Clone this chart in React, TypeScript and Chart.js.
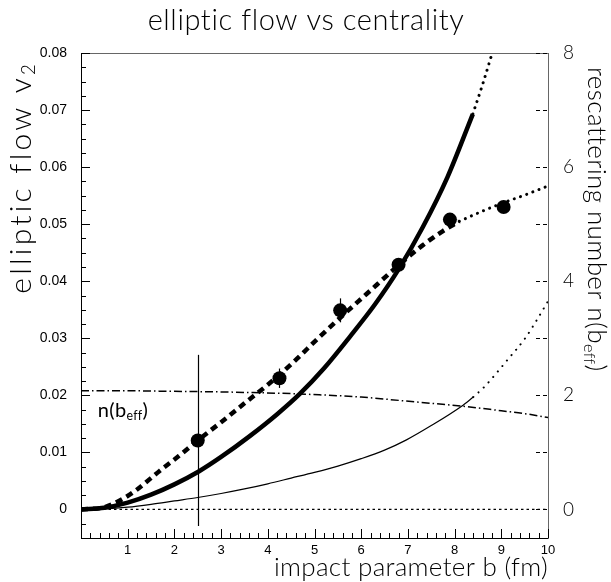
import React, { useEffect, useRef } from "react";
import { Chart, registerables } from "chart.js";

Chart.register(...registerables);

// ---------- text ----------
const TITLE = "elliptic flow vs centrality";
const X_TITLE = "impact parameter b (fm)";
const Y_TITLE_MAIN = "elliptic flow v";
const Y_TITLE_SUB = "2";
const Y2_TITLE_MAIN = "rescattering number n(b";
const Y2_TITLE_SUB = "eff";
const Y2_TITLE_END = ")";
const N_LABEL_MAIN = "n(b";
const N_LABEL_SUB = "eff";
const N_LABEL_END = ")";
const N_LABEL_B = 0.36;
const N_LABEL_V = 0.0174;

// ---------- tick labels ----------
const X_TICKS = [1, 2, 3, 4, 5, 6, 7, 8, 9, 10];
const Y_TICKS = [0, 0.01, 0.02, 0.03, 0.04, 0.05, 0.06, 0.07, 0.08];
const Y2_TICKS = [0, 2, 4, 6, 8];

// ---------- data ----------
// thick solid curve (model) and its dotted continuation
const SOLID_B = [0, 0.5, 1, 1.5, 2, 2.53, 3, 3.62, 4.2, 4.69, 5.2, 5.76, 6.3, 6.81, 7.32, 7.85, 8.39];
const SOLID_V = [0, 0.0003, 0.0012, 0.0026, 0.0044, 0.0067, 0.0092, 0.0129, 0.0167, 0.0203, 0.0247, 0.0303, 0.036, 0.0422, 0.0495, 0.0583, 0.0693];
const SOLID_EXT_B = [8.39, 8.6, 8.85];
const SOLID_EXT_V = [0.0693, 0.0745, 0.0812];

// thick dashed curve and its dotted continuation
const DASH_B = [0, 0.5, 0.84, 1.2, 1.69, 2.1, 2.5, 3, 3.5, 4.05, 4.6, 5.05, 5.55, 6.12, 6.8, 7.3, 7.75, 8.1];
const DASH_V = [0, 0.0004, 0.0016, 0.0035, 0.0068, 0.0094, 0.0121, 0.0153, 0.0186, 0.0222, 0.0262, 0.0298, 0.0336, 0.0378, 0.0428, 0.0462, 0.0488, 0.0505];
const DASH_EXT_B = [8.1, 8.6, 9.06, 9.5, 10];
const DASH_EXT_V = [0.0505, 0.0523, 0.0538, 0.0551, 0.0567];

// thin solid curve and its dotted continuation
const THIN_B = [0, 0.5, 1, 1.5, 2, 2.5, 3, 3.5, 4, 4.5, 5, 5.5, 6, 6.5, 6.97, 7.5, 8.15, 8.4];
const THIN_V = [0, 0.0001, 0.0004, 0.0009, 0.0015, 0.0021, 0.0028, 0.0036, 0.0045, 0.0055, 0.0065, 0.0076, 0.0089, 0.0104, 0.0122, 0.0147, 0.0181, 0.0197];
const THIN_EXT_B = [8.4, 8.65, 9.12, 9.51, 9.76, 10];
const THIN_EXT_V = [0.0197, 0.0216, 0.0261, 0.03, 0.0332, 0.0365];

// rescattering number n(b_eff), right axis
const N_B = [0, 1, 2, 3, 3.6, 4.5, 5.1, 6, 6.83, 7.5, 8.18, 9, 9.5, 10];
const N_V = [2.08, 2.08, 2.07, 2.06, 2.05, 2.03, 2.01, 1.97, 1.91, 1.86, 1.81, 1.73, 1.68, 1.61];

// zero reference line
const ZERO_B = [0, 10];
const ZERO_V = [0, 0];

// measured points with errors
const PT_B = [2.5, 4.25, 5.55, 6.8, 7.9, 9.05];
const PT_V = [0.0121, 0.023, 0.0349, 0.0429, 0.0508, 0.053];
const PT_ERR = [0.015, 0.0017, 0.0021, 0.001, 0.001, 0.001];

const xy = (bs: number[], vs: number[]) => bs.map((b, i) => ({ x: b, y: vs[i] }));

const TITLE_FONT = "Lato, 'DejaVu Sans', sans-serif";
const NUM_FONT = "'Liberation Sans', Arial, sans-serif";

function drawRich(
  ctx: CanvasRenderingContext2D,
  parts: { t: string; sub?: boolean }[],
  size: number,
  align: "left" | "right" | "center",
  spacing = 0,
  weight = 300
) {
  const subSize = size * 0.62;
  (ctx as any).letterSpacing = `${spacing}px`;
  const widths = parts.map((p) => {
    ctx.font = `${weight} ${p.sub ? subSize : size}px ${TITLE_FONT}`;
    return ctx.measureText(p.t).width;
  });
  const total = widths.reduce((a, b) => a + b, 0);
  let x = align === "left" ? 0 : align === "right" ? -total : -total / 2;
  ctx.textBaseline = "middle";
  ctx.textAlign = "left";
  parts.forEach((p, i) => {
    ctx.font = `${weight} ${p.sub ? subSize : size}px ${TITLE_FONT}`;
    ctx.fillText(p.t, x, p.sub ? size * 0.28 : 0);
    x += widths[i];
  });
  (ctx as any).letterSpacing = "0px";
}

const decor = {
  id: "decor",
  afterDatasetsDraw(chart: any) {
    const ctx: CanvasRenderingContext2D = chart.ctx;
    const xs = chart.scales.x;
    const ys = chart.scales.y;
    ctx.save();
    ctx.strokeStyle = "#000";
    ctx.lineWidth = 1.2;
    PT_B.forEach((b, i) => {
      const px = Math.round(xs.getPixelForValue(b)) + 0.5;
      ctx.beginPath();
      ctx.moveTo(px, ys.getPixelForValue(PT_V[i] - PT_ERR[i]));
      ctx.lineTo(px, ys.getPixelForValue(PT_V[i] + PT_ERR[i]));
      ctx.stroke();
    });
    ctx.restore();
  },
  afterDraw(chart: any) {
    const ctx: CanvasRenderingContext2D = chart.ctx;
    const xs = chart.scales.x;
    const ys = chart.scales.y;
    const y2 = chart.scales.y2;
    const { left, right, top, bottom } = chart.chartArea;
    ctx.save();
    ctx.lineWidth = 1;
    // top frame
    ctx.strokeStyle = "#666";
    ctx.beginPath();
    ctx.moveTo(left, Math.round(top) + 0.5);
    ctx.lineTo(right, Math.round(top) + 0.5);
    ctx.stroke();
    // left ticks
    ctx.strokeStyle = "#000";
    for (let k = -2; k <= 32; k++) {
      const py = Math.round(ys.getPixelForValue(k * 0.0025)) + 0.5;
      const len = k % 4 === 0 ? 9 : 5;
      ctx.beginPath();
      ctx.moveTo(left, py);
      ctx.lineTo(left + len, py);
      ctx.stroke();
    }
    // bottom ticks
    for (let k = 0; k <= 50; k++) {
      const px = Math.round(xs.getPixelForValue(k * 0.2)) + 0.5;
      const len = k % 5 === 0 ? 9 : 5;
      ctx.beginPath();
      ctx.moveTo(px, bottom);
      ctx.lineTo(px, bottom - len);
      ctx.stroke();
    }
    // right dashed ticks
    ctx.setLineDash([4, 3]);
    for (let n = 0; n <= 8; n++) {
      const py = Math.round(y2.getPixelForValue(n)) + 0.5;
      ctx.beginPath();
      ctx.moveTo(right - 12, py);
      ctx.lineTo(right, py);
      ctx.stroke();
    }
    ctx.setLineDash([]);

    ctx.fillStyle = "#000";
    // main title
    ctx.save();
    ctx.translate(306, 21);
    drawRich(ctx, [{ t: TITLE }], 29, "center", 0.6);
    ctx.restore();
    // x title
    ctx.save();
    ctx.translate(right, 568);
    drawRich(ctx, [{ t: X_TITLE }], 26, "right", 0.3);
    ctx.restore();
    // left y title
    ctx.save();
    ctx.translate(21, top + 8);
    ctx.rotate(-Math.PI / 2);
    drawRich(ctx, [{ t: Y_TITLE_MAIN }, { t: Y_TITLE_SUB, sub: true }], 30, "right", 3.2);
    ctx.restore();
    // right y title
    ctx.save();
    ctx.translate(596, top + 14);
    ctx.rotate(Math.PI / 2);
    drawRich(
      ctx,
      [{ t: Y2_TITLE_MAIN }, { t: Y2_TITLE_SUB, sub: true }, { t: Y2_TITLE_END }],
      26,
      "left",
      0.4
    );
    ctx.restore();
    // n(b_eff) label
    ctx.save();
    ctx.translate(xs.getPixelForValue(N_LABEL_B), ys.getPixelForValue(N_LABEL_V));
    drawRich(ctx, [{ t: N_LABEL_MAIN }, { t: N_LABEL_SUB, sub: true }, { t: N_LABEL_END }], 20, "left", 0.3, 400);
    ctx.restore();
    ctx.restore();
  },
};

const lineDs = (data: any[], extra: any) => ({
  data,
  borderColor: "#000",
  backgroundColor: "#000",
  pointRadius: 0,
  fill: false,
  cubicInterpolationMode: "monotone",
  ...extra,
});

export default function App() {
  const ref = useRef<HTMLCanvasElement>(null);
  useEffect(() => {
    const canvas = ref.current!;
    const chart = new Chart(canvas, {
      type: "line",
      data: {
        datasets: [
          lineDs(xy(PT_B, PT_V), { showLine: false, pointRadius: 7, pointBackgroundColor: "#000", pointBorderWidth: 0 }),
          lineDs(xy(SOLID_B, SOLID_V), { borderWidth: 4.5 }),
          lineDs(xy(SOLID_EXT_B, SOLID_EXT_V), { borderWidth: 3, borderDash: [0.1, 6.5], borderCapStyle: "round" }),
          lineDs(xy(DASH_B, DASH_V), { borderWidth: 4.5, borderDash: [7, 5] }),
          lineDs(xy(DASH_EXT_B, DASH_EXT_V), { borderWidth: 3, borderDash: [0.1, 6.5], borderCapStyle: "round" }),
          lineDs(xy(THIN_B, THIN_V), { borderWidth: 1.2 }),
          lineDs(xy(THIN_EXT_B, THIN_EXT_V), { borderWidth: 2, borderDash: [0.1, 7], borderCapStyle: "round" }),
          lineDs(xy(N_B, N_V), { borderWidth: 1.5, borderDash: [8, 3, 1.5, 3], yAxisID: "y2" }),
          lineDs(xy(ZERO_B, ZERO_V), { borderWidth: 1.2, borderDash: [2.5, 3] }),
        ],
      },
      options: {
        responsive: false,
        maintainAspectRatio: false,
        devicePixelRatio: 1,
        animation: false,
        events: [],
        layout: { padding: { left: 0, right: 0, top: 53, bottom: 0 } },
        plugins: { legend: { display: false }, tooltip: { enabled: false }, title: { display: false } },
        scales: {
          x: {
            type: "linear",
            position: "bottom",
            min: 0,
            max: 10,
            afterFit: (s: any) => { s.height = 44; },
            afterBuildTicks: (s: any) => { s.ticks = X_TICKS.map((v) => ({ value: v })); },
            ticks: {
              color: "#000",
              font: { family: NUM_FONT, size: 13 },
              padding: 5,
              maxRotation: 0,
              autoSkip: false,
              callback: (v: any) => String(v),
            },
            grid: { display: false, drawTicks: false },
            border: { display: true, color: "#000", width: 1 },
          },
          y: {
            type: "linear",
            position: "left",
            min: -0.005,
            max: 0.08,
            afterFit: (s: any) => { s.width = 81; },
            afterBuildTicks: (s: any) => { s.ticks = Y_TICKS.map((v) => ({ value: v })); },
            ticks: {
              color: "#000",
              font: { family: NUM_FONT, size: 14 },
              padding: 14,
              autoSkip: false,
              callback: (v: any) => (v === 0 ? "0" : Number(v).toFixed(2)),
            },
            grid: { display: false, drawTicks: false },
            border: { display: true, color: "#000", width: 1 },
          },
          y2: {
            type: "linear",
            position: "right",
            min: -0.5,
            max: 8,
            afterFit: (s: any) => { s.width = 63; },
            afterBuildTicks: (s: any) => { s.ticks = Y2_TICKS.map((v) => ({ value: v })); },
            ticks: {
              color: "#000",
              font: { family: TITLE_FONT, size: 19, weight: "300" },
              padding: 15,
              autoSkip: false,
              callback: (v: any) => String(v),
            },
            grid: { display: false, drawTicks: false },
            border: { display: true, color: "#666", width: 1 },
          },
        },
      } as any,
      plugins: [decor],
    });
    return () => chart.destroy();
  }, []);
  return (
    <div style={{ position: "absolute", left: 0, top: 0, width: 611, height: 582, background: "#fff" }}>
      <canvas ref={ref} width={611} height={582} style={{ display: "block", width: 611, height: 582 }} />
    </div>
  );
}
